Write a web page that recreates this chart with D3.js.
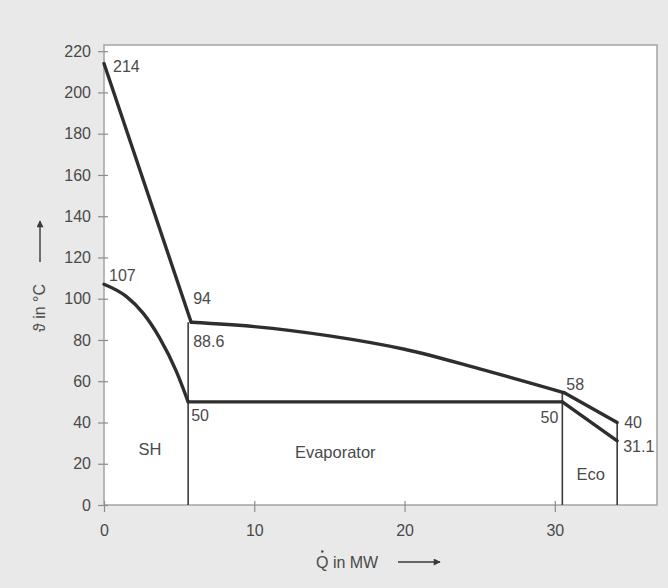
<!DOCTYPE html>
<html>
<head>
<meta charset="utf-8">
<script src="https://cdn.jsdelivr.net/npm/d3@7"></script>
<style>
  html, body { margin: 0; padding: 0; background: #e9e9e9; }
  svg { display: block; }
  text { font-family: "Liberation Sans", Arial, Helvetica, sans-serif; fill: #4a4a4a; }
</style>
</head>
<body>
<svg id="chart" width="668" height="588"></svg>
<script>
// Heat released by the hot stream (upper curve), in MW vs. °C
const hotSH_Q   = [0, 5.8];
const hotSH_T   = [214, 88.6];
const hotEvap_Q = [5.8, 10, 15, 20, 25, 30.6];
const hotEvap_T = [88.6, 86.5, 82, 75.5, 66, 54.5];
const hotEco_Q  = [30.6, 34.15];
const hotEco_T  = [54.5, 40];

// Heat taken up by the working fluid (lower curve)
const coldSH_Q   = [0, 1.5, 2.6, 3.7, 4.8, 5.6];
const coldSH_T   = [107, 101, 93, 81, 65, 50];
const coldEvap_Q = [5.6, 30.5];
const coldEvap_T = [50, 50];
const coldEco_Q  = [30.5, 34.15];
const coldEco_T  = [50, 31.1];

// Section boundaries: position and height of each divider
const dividerQ = [5.6, 30.5, 34.15];
const dividerT = [88.6, 54.5, 40];

// Section names
const sectionNames = ["SH", "Evaporator", "Eco"];

// Value annotations
const noteText = ["214", "107", "94", "88.6", "50", "50", "58", "40", "31.1"];
const noteQ    = [0, 0, 5.6, 5.6, 5.6, 30.5, 30.5, 34.15, 34.15];
const noteT    = [214, 107, 94, 88.6, 50, 50, 58, 40, 31.1];

// Axis ticks
const xTicks = [0, 10, 20, 30];
const yTicks = [0, 20, 40, 60, 80, 100, 120, 140, 160, 180, 200, 220];

const svg = d3.select("#chart");
const plotL = 104, plotR = 657, plotT = 45, plotB = 505;

const x = d3.scaleLinear().domain([0, 36.8]).range([plotL, plotR]);
const y = d3.scaleLinear().domain([0, 223]).range([plotB, plotT]);

// plot area
svg.append("rect")
  .attr("x", plotL).attr("y", plotT)
  .attr("width", plotR - plotL).attr("height", plotB - plotT)
  .attr("fill", "#ffffff")
  .attr("stroke", "#a4a4a4").attr("stroke-width", 1.5);

// axes with ticks crossing the frame
const xAxis = svg.append("g")
  .attr("transform", `translate(0,${plotB})`)
  .call(d3.axisBottom(x).tickValues(xTicks).tickSize(7).tickPadding(13).tickFormat(d3.format("d")));
xAxis.select(".domain").remove();
xAxis.selectAll(".tick line").attr("y1", -4).attr("stroke", "#8c8c8c").attr("stroke-width", 1.2);
xAxis.selectAll(".tick text").attr("font-size", 16).attr("fill", "#4a4a4a").attr("font-family", null);

const yAxis = svg.append("g")
  .attr("transform", `translate(${plotL},0)`)
  .call(d3.axisLeft(y).tickValues(yTicks).tickSize(6).tickPadding(7).tickFormat(d3.format("d")));
yAxis.select(".domain").remove();
yAxis.selectAll(".tick line").attr("x1", 4).attr("stroke", "#8c8c8c").attr("stroke-width", 1.2);
yAxis.selectAll(".tick text").attr("font-size", 16).attr("fill", "#4a4a4a").attr("font-family", null);

// section dividers
svg.append("g").selectAll("line")
  .data(dividerQ.map((q, i) => ({ q, t: dividerT[i] })))
  .join("line")
  .attr("x1", d => x(d.q)).attr("x2", d => x(d.q))
  .attr("y1", y(0)).attr("y2", d => y(d.t))
  .attr("stroke", "#3a3a3a").attr("stroke-width", 1.6);

// temperature curves
const zip = (qs, ts) => qs.map((q, i) => [q, ts[i]]);
const straight = d3.line().x(d => x(d[0])).y(d => y(d[1]));
const smooth = d3.line().x(d => x(d[0])).y(d => y(d[1])).curve(d3.curveMonotoneX);

const curves = [
  { pts: zip(hotSH_Q, hotSH_T), gen: straight },
  { pts: zip(hotEvap_Q, hotEvap_T), gen: smooth },
  { pts: zip(hotEco_Q, hotEco_T), gen: straight },
  { pts: zip(coldSH_Q, coldSH_T), gen: smooth },
  { pts: zip(coldEvap_Q, coldEvap_T), gen: straight },
  { pts: zip(coldEco_Q, coldEco_T), gen: straight }
];
svg.append("g").selectAll("path")
  .data(curves)
  .join("path")
  .attr("d", d => d.gen(d.pts))
  .attr("fill", "none")
  .attr("stroke", "#2e2e2e")
  .attr("stroke-width", 3.4)
  .attr("stroke-linecap", "round")
  .attr("stroke-linejoin", "round");

// value annotations, offset from their anchor points
const noteOffset = [[9, 8], [5, -3], [5, -7], [5, 25], [3, 19], [-4, 21], [4, 5], [7, 6], [6, 11]];
const noteAnchor = ["start", "start", "start", "start", "start", "end", "start", "start", "start"];
svg.append("g").selectAll("text")
  .data(noteText.map((t, i) => ({ t, q: noteQ[i], v: noteT[i], o: noteOffset[i], a: noteAnchor[i] })))
  .join("text")
  .attr("x", d => x(d.q) + d.o[0])
  .attr("y", d => y(d.v) + d.o[1])
  .attr("text-anchor", d => d.a)
  .attr("font-size", 16)
  .text(d => d.t);

// section names, placed inside their heat range
const sectionBounds = [0, ...dividerQ];
const sectionShift = [4, -40, 1];
const sectionY = [24, 23, 12];
svg.append("g").selectAll("text")
  .data(sectionNames)
  .join("text")
  .attr("x", (d, i) => (x(sectionBounds[i]) + x(sectionBounds[i + 1])) / 2 + sectionShift[i])
  .attr("y", (d, i) => y(sectionY[i]))
  .attr("text-anchor", "middle")
  .attr("font-size", 16.5)
  .text(d => d);

// arrowhead for axis titles
svg.append("defs").append("marker")
  .attr("id", "arrow").attr("viewBox", "0 0 10 10")
  .attr("refX", 9).attr("refY", 5)
  .attr("markerWidth", 10).attr("markerHeight", 7)
  .attr("markerUnits", "userSpaceOnUse")
  .attr("orient", "auto")
  .append("path").attr("d", "M0,0 L10,5 L0,10 z").attr("fill", "#3a3a3a");

// x title: heat flow, with the time-derivative dot over Q
svg.append("text")
  .attr("x", 316).attr("y", 568)
  .attr("font-size", 16)
  .text("Q in MW");
svg.append("circle")
  .attr("cx", 322.3).attr("cy", 551.5).attr("r", 1.3)
  .attr("fill", "#4a4a4a");
svg.append("line")
  .attr("x1", 398).attr("x2", 440).attr("y1", 562).attr("y2", 562)
  .attr("stroke", "#3a3a3a").attr("stroke-width", 1.4)
  .attr("marker-end", "url(#arrow)");

// y title
svg.append("text")
  .attr("transform", "translate(45,308) rotate(-90)")
  .attr("text-anchor", "middle")
  .attr("font-size", 16)
  .text("\u03D1 in °C");
svg.append("line")
  .attr("x1", 40).attr("x2", 40).attr("y1", 262).attr("y2", 221)
  .attr("stroke", "#3a3a3a").attr("stroke-width", 1.4)
  .attr("marker-end", "url(#arrow)");
</script>
</body>
</html>
